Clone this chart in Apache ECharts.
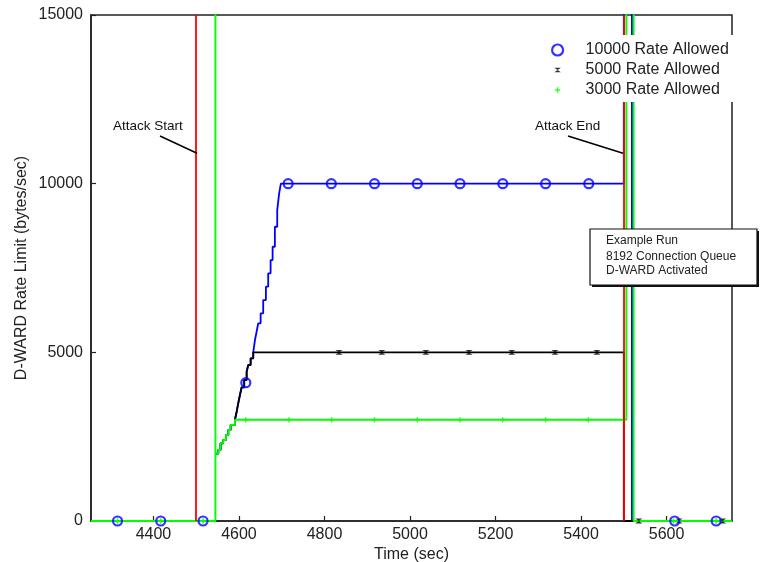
<!DOCTYPE html>
<html><head><meta charset="utf-8">
<script src="https://cdn.jsdelivr.net/npm/echarts@6/dist/echarts.min.js"></script>
<style>html,body{margin:0;padding:0;background:#fff}#c{width:764px;height:562px}</style>
</head><body><div id="c"></div>
<script>
// "Unlimited" rate (drawn off the top of the chart)
const OFF = 20000;
const xTicks = [4400, 4600, 4800, 5000, 5200, 5400, 5600];
const yTicks = [0, 5000, 10000, 15000];
const attackTimes = [4500, 5500];

// zero until D-WARD activates, then unlimited (green drawn), then 2000
const preT = [4254, 4545];
const preV = [0, 0];
// ramp 2000 -> 3000
const ramp1T = [4545, 4551.6, 4557, 4563, 4569.6, 4575, 4580.6, 4590.6];
const ramp1V = [2000, 2105, 2303, 2401, 2549, 2697, 2846, 3000];
// ramp 3000 -> 5000
const ramp2T = [4594.6, 4598.3, 4602.3, 4606.3, 4612.3, 4618, 4621.7, 4627.3, 4633.4];
const ramp2V = [3240, 3488, 3735, 3963, 4180, 4425, 4624, 4822, 5000];
// ramp 5000 -> 10000
const ramp3T = [4637.4, 4641.3, 4645, 4650.7, 4656.7, 4663, 4668.4, 4674, 4678.7, 4684, 4689.5, 4694, 4698];
const ramp3V = [5365, 5611, 5860, 6156, 6550, 6945, 7342, 7736, 8130, 8723, 9218, 9713, 10000];
// tails after attack end
const tail10000T = [5500, 5500, 5519, 5519, 5753];
const tail10000V = [10000, OFF, OFF, 0, 0];
const tail5000T = [5500, 5500, 5753];
const tail5000V = [5000, 0, 0];
const tail3000T = [5506, 5506, 5523, 5523, 5753];
const tail3000V = [3000, OFF, OFF, 0, 0];

// markers
const mark10000T = [4316, 4417, 4516, 4616, 4715, 4816, 4917, 5017, 5117, 5217, 5317, 5418, 5619, 5716];
const mark10000V = [0, 0, 0, 4100, 10000, 10000, 10000, 10000, 10000, 10000, 10000, 10000, 0, 0];
const mark5000T = [4834, 4934, 5037, 5138, 5238, 5339, 5437, 5535, 5629, 5731];
const mark5000V = [5000, 5000, 5000, 5000, 5000, 5000, 5000, 0, 0, 0];
const mark3000T = [4316, 4417, 4516, 4616, 4717, 4817, 4917, 5017, 5117, 5217, 5317, 5417, 5616, 5716];
const mark3000V = [0, 0, 0, 3000, 3000, 3000, 3000, 3000, 3000, 3000, 3000, 3000, 0, 0];

const names = ['10000 Rate Allowed', '5000 Rate Allowed', '3000 Rate Allowed'];

function pairs(T, V) { return T.map((t, i) => [t, V[i]]); }
const BREAK = [4545, '-'];
const line10000 = [...pairs(preT, preV), BREAK, ...pairs([...ramp1T, ...ramp2T, ...ramp3T, ...tail10000T], [...ramp1V, ...ramp2V, ...ramp3V, ...tail10000V])];
const line5000 = [...pairs(preT, preV), BREAK, ...pairs([...ramp1T, ...ramp2T, ...tail5000T], [...ramp1V, ...ramp2V, ...tail5000V])];
const line3000 = pairs([...preT, 4545, ...ramp1T, ...tail3000T], [...preV, OFF, ...ramp1V, ...tail3000V]);

const BLUE = '#0000ff', GREEN = '#00ff00', RED = '#ff0000', BLACK = '#000000';
const bowtie = 'path://M0,0L0,0ZM10,10L10,10ZM2,3L8,3L2,7L8,7Z';
const plus = 'path://M0,0L0,0ZM10,10L10,10ZM4.3,2.6H5.7V4.3H7.4V5.7H5.7V7.4H4.3V5.7H2.6V4.3H4.3Z';

const chart = echarts.init(document.getElementById('c'), null, {renderer: 'canvas'});
const FONT = 'Liberation Sans, Arial, sans-serif';
const plain = v => String(v);
chart.setOption({
  animation: false,
  backgroundColor: '#fff',
  textStyle: {fontFamily: FONT},
  grid: {left: 91, right: 32, top: 15, bottom: 41, outerBoundsMode: 'none', containLabel: false,
         show: true, borderColor: '#222', borderWidth: 1.5, backgroundColor: 'transparent'},
  xAxis: {
    type: 'value', min: 4254, max: 5753,
    name: 'Time (sec)', nameLocation: 'middle', nameGap: 26, nameMoveOverlap: false,
    nameTextStyle: {fontSize: 16, color: '#222', fontFamily: FONT},
    axisLine: {show: true, onZero: false, lineStyle: {color: '#222', width: 1.6}},
    axisTick: {show: true, inside: true, length: 5, customValues: xTicks, lineStyle: {color: '#222', width: 1.2}},
    axisLabel: {customValues: xTicks, formatter: plain, fontSize: 16, color: '#222', margin: 6, fontFamily: FONT},
    splitLine: {show: false}
  },
  yAxis: {
    type: 'value', min: 0, max: 15000, interval: 5000,
    name: 'D-WARD Rate Limit (bytes/sec)', nameLocation: 'middle', nameGap: 61, nameMoveOverlap: false,
    nameTextStyle: {fontSize: 16, color: '#222', fontFamily: FONT},
    axisLine: {show: true, lineStyle: {color: '#222', width: 1.6}},
    axisTick: {show: true, inside: true, length: 5, customValues: yTicks, lineStyle: {color: '#222', width: 1.2}},
    axisLabel: {customValues: yTicks, formatter: plain, fontSize: 16, color: '#222', margin: 8, fontFamily: FONT},
    splitLine: {show: false}
  },
  legend: {
    data: [
      {name: names[0], itemStyle: {color: 'rgba(0,0,0,0)', borderColor: BLUE, borderWidth: 2.2}},
      {name: names[1], itemStyle: {color: BLACK}},
      {name: names[2], itemStyle: {color: GREEN}}
    ],
    orient: 'vertical', left: 546, top: 35,
    itemWidth: 46, itemHeight: 11, itemGap: 4,
    padding: [7, 20, 4, 5],
    backgroundColor: '#fff',
    textStyle: {fontSize: 16, color: '#222', fontFamily: FONT},
    z: 10
  },
  series: [
    {name: 'l10000', type: 'line', data: line10000, step: 'end', showSymbol: false, clip: true, connectNulls: false,
     lineStyle: {color: BLUE, width: 1.8}, z: 2},
    {name: 'l5000', type: 'line', data: line5000, step: 'end', showSymbol: false, clip: true, connectNulls: false,
     lineStyle: {color: BLACK, width: 1.8}, z: 2},
    {name: 'l3000', type: 'line', data: line3000, step: 'end', showSymbol: false, clip: true,
     lineStyle: {color: GREEN, width: 1.9}, z: 2},
    {name: 'attack', type: 'line', data: [], z: 3,
     markLine: {silent: true, symbol: 'none', label: {show: false},
       lineStyle: {color: RED, width: 1.8, type: 'solid'},
       data: attackTimes.map(t => ({xAxis: t}))}},
    {name: names[1], type: 'scatter', data: pairs(mark5000T, mark5000V), symbol: bowtie, symbolSize: 12,
     itemStyle: {color: BLACK}, z: 4},
    {name: names[2], type: 'scatter', data: pairs(mark3000T, mark3000V), symbol: plus, symbolSize: 11,
     itemStyle: {color: GREEN}, z: 4},
    {name: names[0], type: 'scatter', data: pairs(mark10000T, mark10000V), symbol: 'circle', symbolSize: 9,
     itemStyle: {color: 'rgba(0,0,0,0)', borderColor: BLUE, borderWidth: 2.2}, z: 5}
  ],
  graphic: [
    {type: 'text', left: 113, top: 119, z: 20, style: {text: 'Attack Start', fontSize: 13.5, fill: '#111', fontFamily: FONT}},
    {type: 'line', z: 20, shape: {x1: 160, y1: 136, x2: 197, y2: 153.3}, style: {stroke: '#000', lineWidth: 1.5}},
    {type: 'text', left: 535, top: 119, z: 20, style: {text: 'Attack End', fontSize: 13.5, fill: '#111', fontFamily: FONT}},
    {type: 'line', z: 20, shape: {x1: 568, y1: 136, x2: 623, y2: 153.3}, style: {stroke: '#000', lineWidth: 1.5}},
    {type: 'rect', z: 30, shape: {x: 592, y: 231, width: 167, height: 56}, style: {fill: '#111'}},
    {type: 'rect', z: 31, shape: {x: 590, y: 229, width: 167, height: 56}, style: {fill: '#fff', stroke: '#111', lineWidth: 1.2}},
    {type: 'text', z: 32, x: 606, y: 241, style: {text: 'Example Run', fontSize: 12, fill: '#222', verticalAlign: 'middle', fontFamily: FONT}},
    {type: 'text', z: 32, x: 606, y: 257, style: {text: '8192 Connection Queue', fontSize: 12, fill: '#222', verticalAlign: 'middle', fontFamily: FONT}},
    {type: 'text', z: 32, x: 606, y: 271, style: {text: 'D-WARD Activated', fontSize: 12, fill: '#222', verticalAlign: 'middle', fontFamily: FONT}}
  ]
});
</script></body></html>
